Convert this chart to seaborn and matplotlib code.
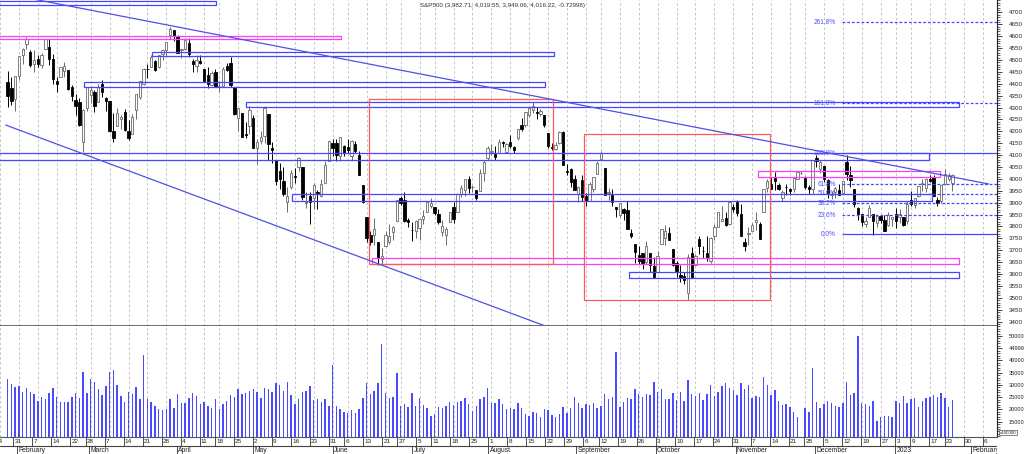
import numpy as np
import pandas as pd
import matplotlib
matplotlib.use("Agg")
import matplotlib.pyplot as plt
from matplotlib.patches import Rectangle
from matplotlib.ticker import MultipleLocator, FixedLocator, NullFormatter
import seaborn as sns

# ---------------------------------------------------------------- data
holidays = ["2022-02-21", "2022-04-15", "2022-05-30", "2022-06-20", "2022-07-04",
            "2022-09-05", "2022-11-24", "2022-12-26", "2023-01-02", "2023-01-16"]
calendar_start, calendar_end = "2022-01-24", "2023-02-10"
first_session, last_session = "2022-01-26", "2023-01-25"
title_text = "S&P500 (3,982.71, 4,019.55, 3,949.06, 4,016.22, -0.72998)"

opens = [4408, 4381, 4336, 4431,
         4519, 4566, 4535, 4482, 4505, 4480, 4548, 4553, 4506, 4412, 4429, 4455, 4457, 4385, 4333, 4324, 4156, 4299, 4354,
         4364, 4322, 4401, 4342, 4327, 4203, 4224, 4253, 4280, 4203, 4189, 4288, 4345, 4398, 4462, 4469, 4494, 4469, 4523, 4541, 4603, 4624, 4599,
         4541, 4547, 4573, 4495, 4475, 4494, 4462, 4437, 4394, 4449, 4385, 4390, 4473, 4489, 4385, 4255, 4279, 4187, 4222, 4254,
         4130, 4159, 4182, 4271, 4129, 4081, 4035, 3990, 3903, 3964, 4013, 4052, 4052, 3900, 3927, 3920, 3943, 3930, 3984, 4077, 4151,
         4150, 4096, 4137, 4135, 4097, 4148, 4102, 3975, 3838, 3763, 3765, 3733, 3665, 3716, 3734, 3775, 3821, 3920, 3913, 3826, 3786,
         3782, 3792, 3831, 3859, 3888, 3880, 3854, 3776, 3764, 3818, 3883, 3860, 3935, 3955, 4000, 3966, 3954, 3951, 4026, 4087,
         4112, 4105, 4107, 4154, 4115, 4156, 4133, 4170, 4227, 4225, 4270, 4291, 4280, 4274, 4267, 4195, 4134, 4126, 4153, 4199, 4034, 4041, 4000,
         3937, 3994, 3930, 3909, 3959, 4022, 4083, 4044, 3940, 3932, 3880, 3849, 3875, 3871, 3773, 3727, 3682, 3687, 3651, 3688, 3633,
         3609, 3726, 3753, 3772, 3706, 3646, 3596, 3591, 3520, 3690, 3638, 3746, 3697, 3689, 3657, 3762, 3799, 3825, 3835, 3809, 3882,
         3901, 3853, 3733, 3767, 3781, 3817, 3810, 3859, 3963, 3978, 4007, 3976, 3919, 3966, 3956, 3956, 4000, 4023, 4005, 3964, 3957,
         4087, 4041, 4053, 3996, 3934, 3947, 3955, 3940, 4070, 4016, 3958, 3878, 3853, 3811, 3840, 3854, 3815, 3843, 3829, 3805, 3830,
         3853, 3840, 3840, 3823, 3911, 3889, 3928, 3977, 3961, 3999, 4003, 3911, 3909, 3979, 4001, 3983]
highs = [4453, 4428, 4432, 4516,
         4551, 4595, 4542, 4540, 4521, 4531, 4590, 4588, 4527, 4427, 4472, 4490, 4457, 4394, 4357, 4339, 4294, 4385, 4389,
         4375, 4401, 4417, 4343, 4327, 4277, 4299, 4268, 4292, 4248, 4272, 4358, 4412, 4465, 4481, 4522, 4501, 4520, 4546, 4575, 4637, 4627, 4604,
         4548, 4583, 4594, 4503, 4521, 4521, 4464, 4471, 4453, 4461, 4411, 4471, 4488, 4513, 4386, 4300, 4279, 4241, 4308, 4269,
         4169, 4200, 4308, 4271, 4157, 4081, 4068, 4050, 3964, 4039, 4046, 4090, 4052, 3946, 3944, 3982, 3955, 3999, 4076, 4159, 4169,
         4167, 4177, 4143, 4168, 4164, 4161, 4119, 3975, 3838, 3779, 3837, 3733, 3708, 3779, 3810, 3802, 3913, 3928, 3945, 3837, 3819,
         3829, 3832, 3870, 3906, 3919, 3880, 3874, 3829, 3796, 3863, 3903, 3940, 3975, 3999, 4013, 3975, 3954, 4040, 4078, 4140,
         4145, 4140, 4167, 4161, 4151, 4186, 4138, 4211, 4257, 4280, 4301, 4325, 4302, 4293, 4267, 4195, 4149, 4156, 4200, 4203, 4062, 4044, 4015,
         3970, 4018, 3942, 3987, 4010, 4076, 4119, 4044, 3961, 3959, 3880, 3900, 3876, 3907, 3790, 3727, 3716, 3688, 3737, 3688, 3672,
         3698, 3791, 3806, 3797, 3706, 3653, 3640, 3609, 3685, 3712, 3686, 3762, 3719, 3762, 3757, 3810, 3862, 3887, 3859, 3905, 3893,
         3911, 3894, 3750, 3796, 3814, 3859, 3818, 3958, 4001, 4009, 4028, 3984, 3954, 3979, 3962, 4004, 4034, 4034, 4012, 3976, 4080,
         4100, 4080, 4053, 4001, 3951, 3966, 3977, 3991, 4101, 4053, 3958, 3880, 3854, 3838, 3889, 3854, 3845, 3846, 3848, 3859, 3840,
         3878, 3874, 3840, 3906, 3951, 3920, 3970, 3998, 4003, 4015, 4015, 3923, 3973, 4040, 4023, 4020]
lows = [4304, 4309, 4287, 4414,
        4484, 4544, 4470, 4451, 4471, 4465, 4548, 4478, 4401, 4365, 4429, 4430, 4374, 4327, 4267, 4221, 4115, 4287, 4318,
        4280, 4322, 4346, 4285, 4199, 4157, 4224, 4210, 4200, 4162, 4187, 4251, 4335, 4393, 4424, 4469, 4455, 4465, 4501, 4517, 4589, 4581, 4530,
        4507, 4540, 4514, 4450, 4450, 4482, 4408, 4381, 4392, 4390, 4367, 4390, 4452, 4385, 4267, 4201, 4175, 4170, 4189, 4132,
        4063, 4147, 4153, 4078, 4067, 3975, 3958, 3929, 3859, 3959, 3983, 4034, 3912, 3877, 3810, 3875, 3875, 3925, 3984, 4077, 4096,
        4074, 4074, 4098, 4110, 4080, 4107, 4017, 3900, 3734, 3722, 3723, 3639, 3637, 3716, 3728, 3743, 3821, 3889, 3820, 3799, 3739,
        3752, 3742, 3809, 3859, 3876, 3847, 3812, 3759, 3722, 3818, 3813, 3860, 3925, 3927, 3939, 3944, 3911, 3951, 3993, 4080,
        4101, 4079, 4107, 4135, 4108, 4129, 4107, 4162, 4201, 4219, 4262, 4277, 4253, 4265, 4219, 4131, 4123, 4120, 4147, 4057, 4017, 3965, 3954,
        3903, 3907, 3886, 3906, 3944, 4022, 4083, 3933, 3912, 3888, 3838, 3839, 3827, 3789, 3750, 3648, 3644, 3623, 3641, 3610, 3585,
        3604, 3726, 3722, 3742, 3633, 3588, 3568, 3560, 3491, 3584, 3638, 3686, 3667, 3654, 3647, 3742, 3799, 3825, 3803, 3808, 3863,
        3843, 3759, 3698, 3721, 3780, 3786, 3748, 3859, 3944, 3957, 3953, 3955, 3906, 3933, 3933, 3947, 3998, 4021, 3956, 3937, 3938,
        4050, 4026, 3987, 3918, 3917, 3921, 3933, 3937, 3994, 3966, 3880, 3828, 3800, 3796, 3838, 3764, 3798, 3813, 3781, 3800, 3800,
        3795, 3815, 3802, 3810, 3888, 3877, 3925, 3950, 3947, 3985, 3928, 3886, 3899, 3974, 3990, 3949]
closes = [4350, 4326, 4432, 4516,
          4546, 4589, 4477, 4500, 4484, 4521, 4587, 4504, 4419, 4401, 4472, 4475, 4380, 4349, 4305, 4226, 4288, 4385, 4374,
          4306, 4387, 4364, 4329, 4201, 4171, 4278, 4260, 4204, 4173, 4262, 4358, 4412, 4463, 4461, 4512, 4456, 4520, 4543, 4575, 4632, 4602, 4530,
          4546, 4583, 4525, 4481, 4500, 4488, 4413, 4397, 4447, 4392, 4391, 4463, 4459, 4393, 4272, 4296, 4175, 4183, 4288, 4132,
          4155, 4175, 4300, 4147, 4123, 3991, 4001, 3935, 3930, 4024, 4008, 4088, 3924, 3901, 3901, 3974, 3941, 3979, 4058, 4158, 4132,
          4101, 4177, 4109, 4121, 4161, 4116, 4018, 3901, 3750, 3735, 3790, 3667, 3675, 3765, 3760, 3796, 3912, 3900, 3821, 3819, 3785,
          3825, 3831, 3845, 3903, 3899, 3855, 3819, 3802, 3790, 3863, 3831, 3937, 3960, 3999, 3962, 3967, 3921, 4024, 4072, 4130,
          4119, 4091, 4155, 4152, 4145, 4140, 4122, 4210, 4208, 4280, 4297, 4305, 4275, 4284, 4228, 4138, 4128, 4141, 4199, 4058, 4031, 3986, 3955,
          3967, 3924, 3908, 3980, 4006, 4067, 4110, 3933, 3946, 3901, 3873, 3900, 3856, 3790, 3758, 3693, 3655, 3647, 3720, 3640, 3586,
          3678, 3791, 3783, 3744, 3640, 3612, 3589, 3577, 3670, 3583, 3677, 3720, 3695, 3666, 3752, 3797, 3859, 3831, 3807, 3901, 3872,
          3856, 3760, 3720, 3771, 3807, 3828, 3749, 3956, 3993, 3957, 3992, 3959, 3947, 3965, 3950, 4004, 4027, 4026, 3964, 3958, 4080,
          4076, 4072, 3999, 3941, 3934, 3963, 3934, 3991, 4019, 3996, 3896, 3852, 3817, 3821, 3879, 3822, 3845, 3829, 3783, 3849, 3840,
          3824, 3853, 3808, 3895, 3893, 3919, 3970, 3983, 3999, 3991, 3929, 3899, 3973, 4020, 4017, 4016]
volumes = [32300, 30400, 29300, 29600, 27300, 28600, 27300, 26300, 23600, 25200,
           24100, 26900, 28600, 25200, 23200, 23200, 23200, 25200, 26900, 24500,
           35400, 26900, 32300, 31400, 28400, 25900, 29700, 35200, 36100, 30000,
           25500, 23200, 27300, 26300, 29000, 24100, 42200, 24300, 23200, 21500,
           20200, 19800, 20000, 24300, 20700, 26300, 22800, 22500, 24500, 26900,
           25600, 22100, 23200, 21400, 20700, 24100, 20200, 22100, 23600, 25900,
           25100, 28200, 26300, 26600, 27500, 28200, 27300, 24800, 28600, 28400,
           27300, 30700, 30000, 27500, 31400, 25900, 22100, 24400, 27300, 27500,
           29700, 23900, 24100, 23200, 24100, 21500, 38300, 21500, 20200, 18800,
           18700, 19800, 18400, 20200, 24500, 30700, 26300, 27500, 30700, 46700,
           26600, 24800, 25200, 34800, 21400, 22200, 20900, 26600, 21500, 24800,
           21800, 20500, 17500, 18100, 21100, 20500, 21500, 23200, 21800, 23200,
           23500, 24500, 22100, 19400, 21400, 24300, 25200, 28600, 22800, 22500,
           24100, 22100, 20000, 20500,
           20300, 22500, 20700, 18100, 17500, 18800, 18400, 17100, 20300, 19800,
           17700, 17100, 18100, 20900, 18700, 20600, 25200, 22800, 20600, 22200,
           21800, 22800, 20600, 21400, 26300, 24300, 24900, 43500, 20900, 23200,
           24700, 24400, 28200, 26300, 25200, 26200, 26000, 31200, 27300, 28500,
           24100, 24300, 26600, 23900, 27300, 23500, 32000, 26300, 25600, 26600,
           23900, 26300, 30000, 25500, 27000, 29400, 30700, 28800, 27800, 25900,
           30900, 28500, 30000, 24800, 25600, 25200, 33100, 30000, 25800, 27900,
           23600, 21800, 22100, 20900, 19100, 17100, 8500, 20500, 18800, 36800,
           23000, 20600, 22200, 23500, 22500, 21400, 21100, 22600, 31100, 25900,
           26600, 50000,
           22800, 22200, 21400, 23500, 15400, 17100, 17200, 17200, 16800,
           23600, 22800, 25500, 22500, 24300, 24600, 21100, 23500, 24600, 25200,
           25900, 25200, 26900, 24600, 20900, 23900]

price_ticks = list(range(3400, 4701, 50))
volume_ticks = [15000, 20000, 25000, 30000, 35000, 40000, 45000, 50000]
volume_tick_labels = ["15000", "20000", "25000", "30000", "35000", "40000", "44999", "50000"]
volume_unit = "x100000"

fib_low, fib_high = 3767.0, 4107.5
fib_ratios = [0.0, 0.236, 0.382, 0.5, 0.618, 1.0, 1.618, 2.618]
fib_labels = ["0.0%", "23.6%", "38.2%", "50.0%", "61.8%", "100.0%", "161.8%", "261.8%"]
fib_start = 217.7

# drawing objects: (left slot, right slot, low price, high price)
blue_zones = [(-6, 52.1, 4732, 4747.5), (35.2, 141.5, 4518, 4535), (17.1, 139.3, 4386, 4409),
              (60.2, 248.6, 4304, 4325), (-6, 240.7, 4078.5, 4107.6), (72.3, 241.6, 3909, 3935),
              (161.4, 248.7, 3585, 3607)]
magenta_zones = [(-6, 85.2, 4587, 4601), (195.5, 243.7, 4008, 4034.5), (93.3, 248.7, 3642.5, 3666.4)]
red_boxes = [(92.5, 141.4, 3642.5, 4334.5), (149.5, 198.6, 3491.2, 4187.4)]
trend_upper_x, trend_upper_y = [0.0, 256.6], [4767.7, 3978.6]
trend_lower_x, trend_lower_y = [-3.5, 141.0], [4226.5, 3371.5]

# ---------------------------------------------------------------- style
sns.set_theme(style="white")
plt.rcParams["font.family"] = ["Liberation Sans", "DejaVu Sans"]

BLUE = "#4646ff"
MAGENTA = "#ff3cff"
RED = "#ff5a5a"
GRID = "#c4c4c4"

# ---------------------------------------------------------------- calendar
cal = pd.bdate_range(calendar_start, calendar_end)
cal = cal[~cal.isin(pd.to_datetime(holidays))]
origin = cal.get_loc(pd.Timestamp("2022-01-31"))
cal_df = pd.DataFrame({"date": cal, "slot": np.arange(len(cal)) - origin})
sessions = cal_df[(cal_df.date >= first_session) & (cal_df.date <= last_session)]
xs = sessions.slot.to_numpy(dtype=float)

o = np.array(opens, float); h = np.array(highs, float)
l = np.array(lows, float); c = np.array(closes, float)
v = np.array(volumes, float)
assert len(xs) == len(o) == len(h) == len(l) == len(c) == len(v)

cal_df["week"] = cal_df.date.dt.to_period("W")
cal_df["month"] = cal_df.date.dt.to_period("M")
weeks = cal_df.groupby("week").first()
months = cal_df.groupby("month").first()
months = months[months.date.dt.day <= 5]
month_names = [str(d.year) if d.month == 1 else d.strftime("%B") for d in months.date]

x_left, x_right = -3.5, 258.7

# ---------------------------------------------------------------- figure
fig = plt.figure(figsize=(10.24, 4.54), dpi=100)
right_frac = 996.7 / 1024
ax_p = fig.add_axes([0, (454 - 325.7) / 454, right_frac, 325.7 / 454])
ax_v = fig.add_axes([0, (454 - 436.7) / 454, right_frac, (436.7 - 325.7) / 454])
ax_d = fig.add_axes([0, 0, right_frac, (454 - 436.7) / 454])

for ax in (ax_p, ax_v):
    ax.set_facecolor("white")
    ax.set_xlim(x_left, x_right)
    ax.set_xticks(weeks.slot.to_numpy())
    ax.xaxis.set_major_formatter(NullFormatter())
    ax.tick_params(axis="x", length=0)
    ax.grid(axis="x", color=GRID, lw=0.7, ls=(0, (2.5, 2.5)))
    ax.grid(axis="y", visible=False)
    ax.yaxis.tick_right()
    for s in ("left", "top"):
        ax.spines[s].set_visible(False)
    ax.spines["right"].set_color("#222222")
    ax.spines["right"].set_linewidth(0.8)

# ---- price panel
ax_p.set_ylim(3383, 4752)
ax_p.spines["bottom"].set_color("#444444")
ax_p.spines["bottom"].set_linewidth(1.1)
ax_p.yaxis.set_major_locator(FixedLocator(price_ticks))
ax_p.yaxis.set_minor_locator(MultipleLocator(10))
ax_p.tick_params(axis="y", which="major", direction="out", length=3.5, width=0.6,
                 colors="#222222", labelsize=4.5, pad=5)
ax_p.tick_params(axis="y", which="minor", direction="out", length=1.8, width=0.5, colors="#222222")

up = c >= o
dn = ~up
body_lo = np.minimum(o, c)
body_h = np.maximum(np.abs(c - o), 1.2)
ax_p.vlines(xs[up], l[up], h[up], color="#6a6a6a", lw=0.7, zorder=2)
ax_p.vlines(xs[dn], l[dn], h[dn], color="#000000", lw=0.7, zorder=2)
ax_p.bar(xs[up], body_h[up], bottom=body_lo[up], width=0.62, facecolor="white",
         edgecolor="#6a6a6a", linewidth=0.6, zorder=3)
ax_p.bar(xs[dn], body_h[dn], bottom=body_lo[dn], width=0.62, facecolor="black",
         edgecolor="black", linewidth=0.6, zorder=3)

for x0, x1, lo, hi in blue_zones:
    ax_p.add_patch(Rectangle((x0, lo), x1 - x0, hi - lo, fill=False, ec=BLUE, lw=0.9, zorder=4))
for x0, x1, lo, hi in magenta_zones:
    ax_p.add_patch(Rectangle((x0, lo), x1 - x0, hi - lo, fill=False, ec=MAGENTA, lw=0.9, zorder=4))
for x0, x1, lo, hi in red_boxes:
    ax_p.add_patch(Rectangle((x0, lo), x1 - x0, hi - lo, fill=False, ec=RED, lw=0.9, zorder=4))

sns.lineplot(x=trend_upper_x, y=trend_upper_y, ax=ax_p, color="#4f4fea", lw=0.9, zorder=4)
sns.lineplot(x=trend_lower_x, y=trend_lower_y, ax=ax_p, color="#4f4fea", lw=0.9, zorder=4)

for r, lab in zip(fib_ratios, fib_labels):
    lvl = fib_low + r * (fib_high - fib_low)
    ls = "-" if r in (0.0, 1.0) else (0, (2.2, 1.6))
    ax_p.hlines(lvl, fib_start, x_right, color=BLUE, lw=0.9, ls=ls, zorder=4)
    ax_p.text(fib_start - 1.5, lvl, lab, ha="right", va="center", fontsize=4.7,
              color="#5050ff", zorder=5)

fig.text(503 / 1024, 1 - 5.7 / 454, title_text, ha="center", va="center",
         fontsize=4.5, color="#333333")

# ---- volume panel
ax_v.set_ylim(8874, 54200)
ax_v.spines["top"].set_visible(False)
ax_v.spines["bottom"].set_color("#555555")
ax_v.spines["bottom"].set_linewidth(0.8)
ax_v.bar(xs, v, width=0.38, color="#4a4aff", linewidth=0, zorder=3)
ax_v.yaxis.set_major_locator(FixedLocator(volume_ticks))
ax_v.set_yticklabels(volume_tick_labels)
ax_v.yaxis.set_minor_locator(MultipleLocator(1000))
ax_v.tick_params(axis="y", which="major", direction="out", length=3.5, width=0.6,
                 colors="#222222", labelsize=4.1, pad=5)
ax_v.tick_params(axis="y", which="minor", direction="out", length=1.8, width=0.5, colors="#222222")
ax_v.text(1.003, 0.035, volume_unit, transform=ax_v.transAxes, ha="left", va="center",
          fontsize=3.2, color="#222222",
          bbox=dict(boxstyle="square,pad=0.15", fc="white", ec="#555555", lw=0.5))

# ---- date axis
ax_d.set_xlim(x_left, x_right)
ax_d.set_ylim(0, 1)
ax_d.axis("off")
ax_d.axhline(0.48, color="#444444", lw=0.8)
ax_d.vlines(weeks.slot.to_numpy(), 0.48, 1.0, color="#333333", lw=0.6)
ax_d.vlines(months.slot.to_numpy(), 0.0, 0.48, color="#333333", lw=0.6)
for s, d in zip(weeks.slot, weeks.date):
    ax_d.text(s + 0.35, 0.72, str(d.day), ha="left", va="center", fontsize=4.6,
              color="#222222", clip_on=True)
for s, name in zip(months.slot, month_names):
    ax_d.text(s + 0.35, 0.2, name, ha="left", va="center", fontsize=4.9,
              color="#222222", clip_on=True)

fig.savefig("out.png", dpi=100)
